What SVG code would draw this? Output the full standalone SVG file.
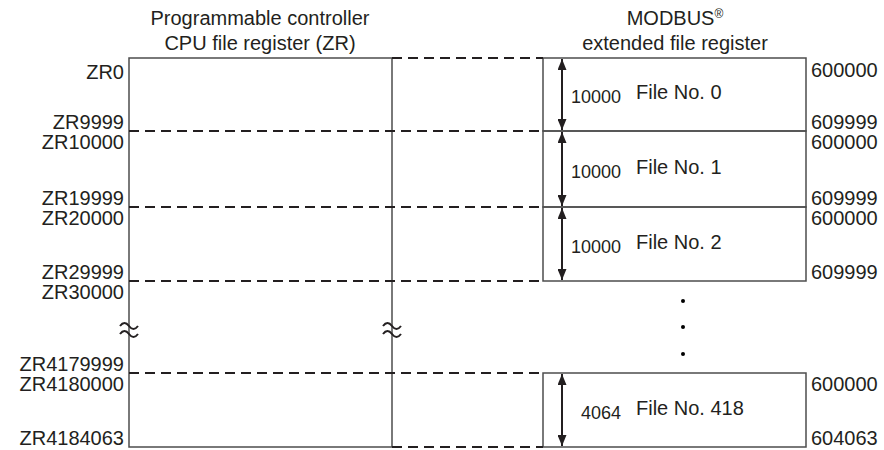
<svg xmlns="http://www.w3.org/2000/svg" width="884" height="450" viewBox="0 0 884 450">
<style>
text{font-family:"Liberation Sans",Arial,Helvetica,sans-serif;fill:#231f20}
.hd{font-size:20px;text-anchor:middle}
.lb{font-size:20px;text-anchor:end}
.rb{font-size:20px}
.fn{font-size:20px}
.sz{font-size:18px;text-anchor:end}
.sup{font-size:12px}
.box{fill:none;stroke:#4d4d4d;stroke-width:1.5}
.dash{stroke:#231f20;stroke-width:2;stroke-dasharray:10 6;fill:none}
.arr{stroke:#231f20;stroke-width:2;marker-start:url(#ah);marker-end:url(#ah)}
.brk{fill:none;stroke:#231f20;stroke-width:2}
</style>
<defs>
<marker id="ah" viewBox="0 0 11 9" refX="11" refY="4.5" markerWidth="11" markerHeight="9" markerUnits="userSpaceOnUse" orient="auto-start-reverse">
<path d="M0,0 L11,4.5 L0,9 z" fill="#231f20"/>
</marker>
</defs>

<g id="headers">
<text class="hd" x="260" y="25">Programmable controller</text>
<text class="hd" x="260" y="50">CPU file register (ZR)</text>
<text class="hd" x="675" y="25">MODBUS<tspan class="sup" dy="-7">®</tspan></text>
<text class="hd" x="675" y="50">extended file register</text>
</g>

<g id="cpu-register">
<rect class="box" x="129" y="58" width="263" height="389"/>
<path class="brk" d="M120,326 c3,-4 6,-4 9,0 s6,4 9,0 M120,334 c3,-4 6,-4 9,0 s6,4 9,0"/>
<path class="brk" d="M383,326 c3,-4 6,-4 9,0 s6,4 9,0 M383,334 c3,-4 6,-4 9,0 s6,4 9,0"/>
<text class="lb" x="124" y="79">ZR0</text>
<text class="lb" x="124" y="129">ZR9999</text>
<text class="lb" x="124" y="149">ZR10000</text>
<text class="lb" x="124" y="205">ZR19999</text>
<text class="lb" x="124" y="225">ZR20000</text>
<text class="lb" x="124" y="279">ZR29999</text>
<text class="lb" x="124" y="299">ZR30000</text>
<text class="lb" x="124" y="371">ZR4179999</text>
<text class="lb" x="124" y="391">ZR4180000</text>
<text class="lb" x="124" y="445">ZR4184063</text>
</g>

<g id="file-0">
<rect class="box" x="543" y="58" width="263" height="73"/>
<text class="sz" x="621" y="103">10000</text>
<text class="fn" x="636" y="99">File No. 0</text>
<text class="rb" x="811" y="77">600000</text>
<text class="rb" x="811" y="129">609999</text>
</g>
<g id="file-1">
<rect class="box" x="543" y="131" width="263" height="76"/>
<text class="sz" x="621" y="178">10000</text>
<text class="fn" x="636" y="174">File No. 1</text>
<text class="rb" x="811" y="149">600000</text>
<text class="rb" x="811" y="205">609999</text>
</g>
<g id="file-2">
<rect class="box" x="543" y="207" width="263" height="74"/>
<text class="sz" x="621" y="253">10000</text>
<text class="fn" x="636" y="249">File No. 2</text>
<text class="rb" x="811" y="225">600000</text>
<text class="rb" x="811" y="279">609999</text>
</g>
<g id="ellipsis">
<circle cx="683" cy="301" r="2"/>
<circle cx="683" cy="327" r="2"/>
<circle cx="683" cy="354" r="2"/>
</g>
<g id="file-418">
<rect class="box" x="543" y="373" width="263" height="74"/>
<text class="sz" x="621" y="419">4064</text>
<text class="fn" x="636" y="415">File No. 418</text>
<text class="rb" x="811" y="391">600000</text>
<text class="rb" x="811" y="445">604063</text>
</g>

<g id="connectors">
<path class="dash" d="M392,58H543 M129,131H543 M129,207H543 M129,281H543 M129,373H543 M392,447H543"/>
<line class="arr" x1="562" y1="59" x2="562" y2="130"/>
<line class="arr" x1="562" y1="132" x2="562" y2="206"/>
<line class="arr" x1="562" y1="208" x2="562" y2="280"/>
<line class="arr" x1="562" y1="374" x2="562" y2="446"/>
</g>
</svg>
